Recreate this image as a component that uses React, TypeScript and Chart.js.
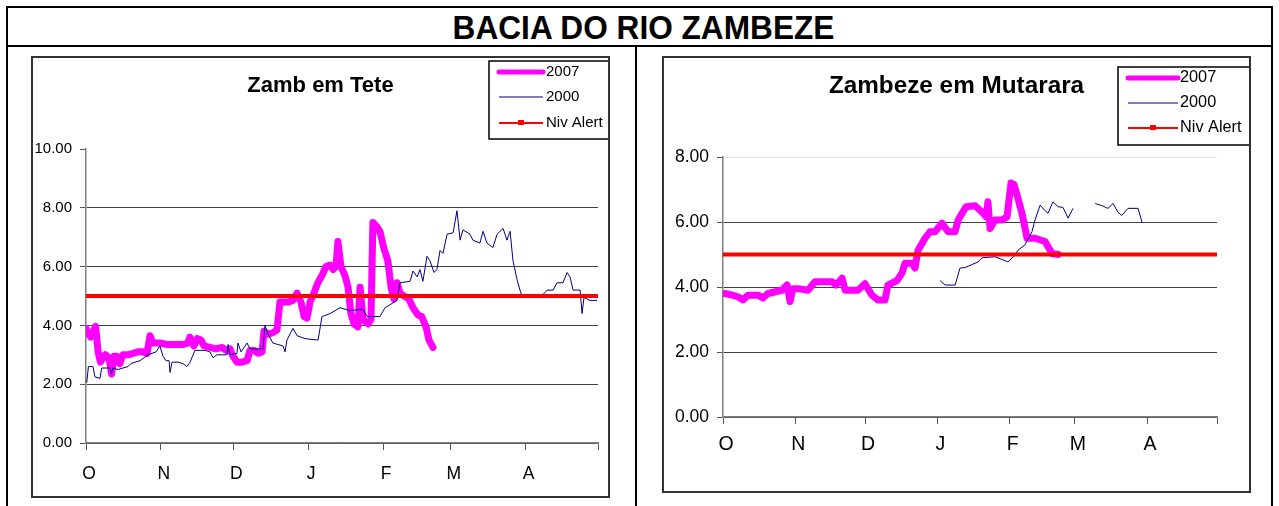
import React, { useEffect, useRef } from 'react';
import { Chart, registerables } from 'chart.js';

Chart.register(...registerables);

// ---------- axis data ----------
const monthStarts = [0, 31, 61, 92, 123, 151, 182, 212]; // days since 1 Oct
const monthLabels = ['O', 'N', 'D', 'J', 'F', 'M', 'A', ''];
const alertLevel = 5.0;
const alertDays = [0, 212];

// ---------- Zamb em Tete ----------
const tete2007Days = [0, 1, 2, 3, 4, 5, 6, 7, 8, 9.5, 10.6, 11.6, 12.8, 14, 15.3, 17.4, 19.5, 21.5, 23.6, 25.3, 26.5, 27.7, 30.6, 33.5, 36.9, 40.2, 42.2, 43, 44.7, 46, 47.6, 48.9, 51.3, 53.8, 56.3, 58, 59.6, 60.9, 62.5, 64.6, 66.7, 67.9, 69.6, 71.2, 72.9, 73.7, 75.4, 77.4, 79.1, 80.3, 82, 84, 85.7, 87.4, 89, 90.3, 91.5, 92.8, 94.4, 96, 97.7, 99.4, 101, 102.3, 103.5, 104.3, 105.6, 107.2, 108.5, 109.7, 111, 112.6, 113.5, 114.7, 116.8, 118, 118.8, 120.5, 121.7, 123.4, 125, 126.3, 127.5, 128.8, 130, 131.7, 133.7, 135.4, 137.5, 139, 140.8, 142, 143.7];
const tete2007Levels = [3.9, 3.7, 3.6, 3.8, 3.97, 3.1, 2.75, 2.9, 3.0, 2.9, 2.35, 2.95, 2.95, 2.7, 3.0, 3.0, 3.05, 3.1, 3.1, 3.05, 3.65, 3.4, 3.4, 3.35, 3.35, 3.35, 3.4, 3.6, 3.3, 3.55, 3.5, 3.3, 3.25, 3.2, 3.25, 3.15, 3.2, 2.95, 2.75, 2.75, 2.8, 3.15, 3.15, 3.05, 3.1, 3.8, 3.7, 3.75, 3.85, 4.8, 4.8, 4.8, 4.85, 5.1, 4.8, 4.3, 4.25, 4.8, 5.1, 5.45, 5.7, 6.0, 6.05, 5.9, 6.0, 6.85, 6.0, 5.7, 5.3, 4.4, 4.05, 3.95, 5.3, 4.2, 4.05, 4.2, 7.5, 7.35, 7.2, 6.6, 6.2, 5.3, 4.9, 5.45, 5.1, 5.0, 4.9, 4.6, 4.35, 4.3, 3.95, 3.5, 3.25];

const tete2000Days = [0.3, 1, 2.9, 3.7, 5.8, 6.5, 9.9, 10.6, 11.2, 13.3, 15.3, 17.4, 18.6, 20.3, 22.4, 24, 25.7, 27.3, 29, 30.6, 31.9, 33.1, 34.4, 34.8, 35.6, 38.1, 40.2, 41.8, 43.1, 45.1, 49.3, 51.3, 52.6, 54.2, 58.4, 58.8, 59.6, 62.5, 62.9, 64.2, 66.7, 67.9, 73.3, 74.1, 75.4, 77.4, 81.6, 82.4, 83.2, 85.7, 87.4, 90.7, 96.1, 97.7, 101, 105.2, 109.3, 114.7, 116.4, 121.7, 123.8, 128.8, 130, 134.2, 135.4, 137.1, 138.3, 139.5, 141.2, 142.4, 144.1, 145.3, 146.6, 147.8, 149.5, 152, 153.6, 154.9, 156.1, 159, 160.2, 163.1, 164.4, 166, 168.5, 170.2, 172.7, 174.3, 175.6, 176.8, 178.5, 179.7, 180.5, 183.9, 186.7, 189.2, 190.9, 193.4, 195, 197.5, 199.2, 200.4, 201.7, 204.6, 205.4, 206.2, 208.7, 211.6];
const tete2000Levels = [2.05, 2.6, 2.6, 2.25, 2.2, 2.55, 2.55, 2.35, 2.55, 2.5, 2.55, 2.6, 2.7, 2.75, 2.8, 2.9, 3.0, 3.05, 3.1, 3.3, 2.95, 2.8, 2.8, 2.4, 2.75, 2.75, 2.7, 2.6, 2.75, 3.15, 3.15, 3.1, 2.9, 3.0, 3.0, 3.35, 3.0, 3.05, 3.4, 3.1, 3.4, 3.2, 3.2, 4.0, 3.7, 3.4, 3.3, 3.1, 3.5, 3.9, 3.65, 3.55, 3.5, 4.3, 4.4, 4.6, 4.5, 4.55, 4.3, 4.3, 4.6, 4.85, 5.45, 5.5, 5.85, 5.65, 5.9, 5.5, 6.35, 6.2, 5.8, 5.9, 6.55, 6.45, 7.1, 7.15, 7.9, 6.9, 7.25, 7.1, 6.9, 6.8, 7.2, 6.8, 6.65, 7.1, 7.3, 6.9, 7.2, 6.2, 5.55, 5.2, 5.0, 5.05, 5.0, 5.05, 5.2, 5.2, 5.45, 5.45, 5.8, 5.65, 5.2, 5.2, 4.4, 4.95, 4.85, 4.85];

// ---------- Zambeze em Mutarara ----------
const mut2007Days = [0.9, 3.9, 6.4, 8.6, 10.7, 15, 17.2, 19.3, 25.3, 27.5, 28.8, 30, 32.2, 36.5, 39.5, 46.8, 48.5, 51.1, 52.4, 57.9, 60.9, 63.9, 66.5, 69.5, 70.8, 74.7, 76.8, 78.1, 81.1, 82.4, 83.7, 86.7, 88.8, 91, 94, 96.6, 99.6, 100.9, 104.3, 108.2, 111.2, 112.9, 113.7, 114.6, 116.7, 119.7, 121.9, 123.6, 124.9, 126.2, 128.3, 130.5, 133.9, 138.2, 141.2, 143.8];
const mut2007Levels = [3.8, 3.75, 3.7, 3.6, 3.75, 3.75, 3.66, 3.8, 3.9, 4.06, 3.55, 3.95, 3.95, 3.9, 4.16, 4.16, 4.06, 4.27, 3.9, 3.9, 4.1, 3.75, 3.6, 3.6, 4.06, 4.2, 4.42, 4.73, 4.73, 4.58, 5.13, 5.5, 5.7, 5.7, 5.96, 5.7, 5.7, 6.06, 6.47, 6.5, 6.3, 6.16, 6.62, 5.8, 6.06, 6.06, 6.16, 7.2, 7.15, 6.83, 6.27, 5.5, 5.5, 5.4, 5.03, 5.0];

const mut2000Days = [93.1, 95.3, 99.6, 101.7, 103.9, 109.4, 111.2, 116.7, 119.7, 122.3, 125.3, 126.6, 129.6, 132.6, 133.9, 136.1, 138.2, 139.5, 141.6, 143.8, 145.9, 148.1, 150.2, 155, 159.7, 162.7, 165.2, 167.4, 169.5, 171.2, 173.8, 178.1, 179.8];
const mut2000Levels = [4.2, 4.06, 4.06, 4.58, 4.6, 4.77, 4.9, 4.93, 4.85, 4.77, 4.98, 5.13, 5.3, 5.7, 6.06, 6.52, 6.35, 6.27, 6.62, 6.47, 6.45, 6.12, 6.42, null, 6.57, 6.5, 6.42, 6.57, 6.3, 6.2, 6.42, 6.42, 6.0];

const FONT = '"Liberation Sans", Arial, sans-serif';

const toPoints = (xs: number[], ys: (number | null)[]) => xs.map((x, i) => ({ x, y: ys[i] }));

const excelLegend = {
  id: 'excelLegend',
  afterDraw(chart: any, _args: any, opts: any) {
    const { ctx } = chart;
    const { box, rows, sampleX0, sampleX1, textX, fontSize } = opts;
    ctx.save();
    ctx.fillStyle = '#ffffff';
    ctx.fillRect(box.x, box.y, box.w, box.h);
    ctx.strokeStyle = '#000000';
    ctx.lineWidth = 1.5;
    ctx.strokeRect(box.x, box.y, box.w, box.h);
    chart.data.datasets.forEach((ds: any, i: number) => {
      const y = rows[i];
      ctx.beginPath();
      ctx.strokeStyle = ds.borderColor;
      ctx.lineWidth = ds.legendWidth ?? ds.borderWidth;
      ctx.lineCap = ds.borderCapStyle || 'butt';
      ctx.moveTo(sampleX0, y);
      ctx.lineTo(sampleX1, y);
      ctx.stroke();
      if (ds.legendMarker) {
        ctx.fillStyle = ds.borderColor;
        const mx = (sampleX0 + sampleX1) / 2;
        ctx.fillRect(mx - 3, y - 3, 6, 5);
      }
      ctx.fillStyle = '#000000';
      ctx.font = `${fontSize}px ${FONT}`;
      ctx.textBaseline = 'middle';
      ctx.textAlign = 'left';
      ctx.fillText(ds.label, textX, y);
    });
    ctx.restore();
  },
};

type ChartSpec = {
  title: string;
  titleSize: number;
  yFont: number;
  xFont: number;
  yMax: number;
  d2007: { x: number; y: number | null }[];
  d2000: { x: number; y: number | null }[];
  plotLeft: number;
  plotRightPad: number;
  xAxisHeight: number;
  xLabelPad: number;
  titleCenter: number;
  plotTop: number;
  legend: any;
};

function makeConfig(spec: ChartSpec): any {
  const lh = spec.titleSize * 1.2;
  const padTop = spec.titleCenter - lh / 2;
  const padBottom = spec.plotTop - padTop - lh;
  return {
    type: 'line',
    data: {
      datasets: [
        {
          label: '2007',
          data: spec.d2007,
          borderColor: '#ff00ff',
          borderWidth: 7,
          legendWidth: 5,
          borderCapStyle: 'round',
          borderJoinStyle: 'round',
          pointRadius: 0,
          tension: 0,
          order: 3,
        },
        {
          label: '2000',
          data: spec.d2000,
          borderColor: '#000080',
          borderWidth: 1,
          pointRadius: 0,
          tension: 0,
          spanGaps: false,
          order: 2,
        },
        {
          label: 'Niv Alert',
          data: toPoints(alertDays, alertDays.map(() => alertLevel)),
          borderColor: '#ff0000',
          borderWidth: 4,
          legendWidth: 2,
          legendMarker: true,
          pointRadius: 0,
          tension: 0,
          order: 1,
        },
      ],
    },
    options: {
      responsive: false,
      animation: false,
      devicePixelRatio: 1,
      layout: { padding: 0 },
      plugins: {
        legend: { display: false },
        tooltip: { enabled: false },
        title: {
          display: true,
          text: spec.title,
          color: '#000000',
          font: { family: FONT, size: spec.titleSize, weight: 'bold', lineHeight: 1.2 },
          padding: { top: padTop, bottom: padBottom },
        },
        excelLegend: spec.legend,
      },
      scales: {
        x: {
          type: 'linear',
          min: 0,
          max: 212,
          afterBuildTicks: (scale: any) => {
            scale.ticks = monthStarts.map((v) => ({ value: v }));
          },
          afterFit: (scale: any) => {
            scale.height = spec.xAxisHeight;
            scale.paddingLeft = 0;
            scale.paddingRight = spec.plotRightPad;
          },
          ticks: {
            autoSkip: false,
            maxRotation: 0,
            minRotation: 0,
            labelOffset: 3,
            padding: spec.xLabelPad,
            color: '#000000',
            font: { family: FONT, size: spec.xFont },
            callback: (_v: any, i: number) => monthLabels[i],
          },
          grid: {
            drawOnChartArea: false,
            drawTicks: true,
            tickLength: 7,
            tickColor: '#555555',
          },
          border: { display: true, color: '#808080', width: 1.5 },
        },
        y: {
          min: 0,
          max: spec.yMax,
          afterFit: (scale: any) => {
            scale.width = spec.plotLeft;
          },
          ticks: {
            stepSize: 2,
            padding: 8,
            color: '#000000',
            font: { family: FONT, size: spec.yFont },
            callback: (v: any) => Number(v).toFixed(2),
          },
          grid: {
            drawTicks: true,
            tickLength: 6,
            tickColor: '#555555',
            lineWidth: 1,
            color: (c: any) =>
              c.tick && c.tick.value === spec.yMax
                ? spec.yMax === 8
                  ? '#e0e0e0'
                  : 'rgba(0,0,0,0)'
                : '#404040',
          },
          border: { display: true, color: '#808080', width: 1.5 },
        },
      },
    },
    plugins: [excelLegend],
  };
}

function ChartBox(props: { left: number; top: number; width: number; height: number; spec: ChartSpec }) {
  const ref = useRef<HTMLCanvasElement | null>(null);
  const { left, top, width, height, spec } = props;
  const cw = width - 4;
  const ch = height - 4;
  useEffect(() => {
    if (!ref.current) return;
    const chart = new Chart(ref.current, makeConfig(spec));
    return () => chart.destroy();
  }, []);
  return (
    <div
      style={{
        position: 'absolute',
        left,
        top,
        width,
        height,
        boxSizing: 'border-box',
        border: '2px solid #333333',
        background: '#ffffff',
      }}
    >
      <canvas ref={ref} width={cw} height={ch} style={{ display: 'block', width: cw, height: ch }} />
    </div>
  );
}

const line = (l: number, t: number, w: number, h: number) => (
  <div style={{ position: 'absolute', left: l, top: t, width: w, height: h, background: '#000000' }} />
);

export default function App() {
  const teteSpec: ChartSpec = {
    title: 'Zamb em Tete',
    titleSize: 22,
    yFont: 15,
    xFont: 17.5,
    yMax: 10,
    d2007: toPoints(tete2007Days, tete2007Levels),
    d2000: toPoints(tete2000Days, tete2000Levels),
    plotLeft: 53,
    plotRightPad: 10,
    xAxisHeight: 53,
    xLabelPad: 14,
    titleCenter: 28,
    plotTop: 91,
    legend: { box: { x: 456, y: 3, w: 122, h: 78 }, rows: [14, 39, 65], sampleX0: 466, sampleX1: 510, textX: 513, fontSize: 15 },
  };
  const mutSpec: ChartSpec = {
    title: 'Zambeze em Mutarara',
    titleSize: 24.3,
    yFont: 17.5,
    xFont: 19.5,
    yMax: 8,
    d2007: toPoints(mut2007Days, mut2007Levels),
    d2000: toPoints(mut2000Days, mut2000Levels),
    plotLeft: 59,
    plotRightPad: 32,
    xAxisHeight: 74,
    xLabelPad: 9,
    titleCenter: 28,
    plotTop: 99,
    legend: { box: { x: 454, y: 9, w: 134, h: 78 }, rows: [20, 45, 70], sampleX0: 464, sampleX1: 514, textX: 516, fontSize: 16.3 },
  };
  return (
    <div
      style={{
        position: 'absolute',
        left: 0,
        top: 0,
        width: 1279,
        height: 506,
        overflow: 'hidden',
        background: '#ffffff',
        fontFamily: FONT,
      }}
    >
      {line(6, 6, 1267, 2)}
      {line(6, 6, 2, 500)}
      {line(1271, 6, 2, 500)}
      {line(6, 45, 1267, 2)}
      {line(635, 45, 2, 461)}
      <div
        style={{
          position: 'absolute',
          left: 12,
          top: 10,
          width: 1263,
          height: 34,
          lineHeight: '34px',
          textAlign: 'center',
          fontSize: 34,
          fontWeight: 'bold',
          color: '#000000',
          transform: 'scaleX(0.93)',
          transformOrigin: '50% 50%',
        }}
      >
        BACIA DO RIO ZAMBEZE
      </div>
      <ChartBox left={31} top={56} width={579} height={442} spec={teteSpec} />
      <ChartBox left={662} top={56} width={589} height={437} spec={mutSpec} />
    </div>
  );
}
